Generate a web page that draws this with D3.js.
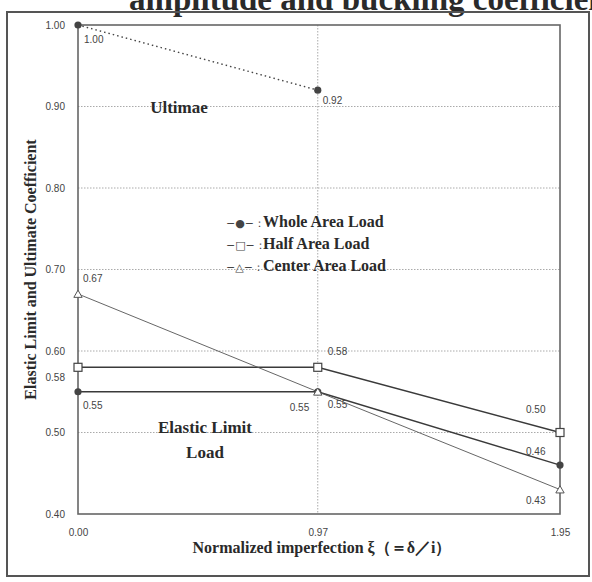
<!DOCTYPE html>
<html>
<head>
<meta charset="utf-8">
<script src="https://cdn.jsdelivr.net/npm/d3@7"></script>
<style>
  body { margin: 0; background: #fff; }
  svg { display: block; }
  .serif { font-family: "Liberation Serif", "DejaVu Serif", serif; font-weight: bold; fill: #2a2a2a; }
  .tick text { font-family: "Liberation Sans", Arial, sans-serif; font-size: 10px; fill: #444; }
  .val { font-family: "Liberation Sans", Arial, sans-serif; font-size: 10px; fill: #444; }
</style>
</head>
<body>
<svg id="chart" width="592" height="582"></svg>
<script>
'use strict';

// data
var xValues = [0.00, 0.97, 1.95];
var yTicks = [0.40, 0.50, 0.58, 0.60, 0.70, 0.80, 0.90, 1.00];
var yGrid = [0.50, 0.60, 0.70, 0.80, 0.90];
var ultimate = [1.00, 0.92];
var wholeArea = [0.55, 0.55, 0.46];
var halfArea = [0.58, 0.58, 0.50];
var centerArea = [0.67, 0.55, 0.43];
var legendNames = ['Whole Area Load', 'Half Area Load', 'Center Area Load'];
var legendKeys = ['\u2212\u25CF\u2212：', '\u2212\u25A1\u2212：', '\u2212\u25B3\u2212：'];

var svg = d3.select('#chart');
var margin = { left: 78, right: 32, top: 25, bottom: 68 };
var W = 592, H = 582;

var x = d3.scaleLinear().domain([0, 1.95]).range([margin.left, W - margin.right]);
var y = d3.scaleLinear().domain([0.40, 1.00]).range([H - margin.bottom, margin.top]);

// title, cut off by the top edge as in the scan
svg.append('text')
  .attr('class', 'serif')
  .attr('x', 129).attr('y', 10)
  .style('font-size', '33px')
  .text('amplitude and buckling coefficient');

// outer frame
svg.append('rect')
  .attr('x', 7).attr('y', 12)
  .attr('width', 582).attr('height', 564)
  .attr('fill', 'none')
  .attr('stroke', '#555')
  .attr('stroke-width', 2);

// grid
svg.append('g').selectAll('line').data(yGrid).join('line')
  .attr('x1', x(0)).attr('x2', x(1.95))
  .attr('y1', function (d) { return y(d); }).attr('y2', function (d) { return y(d); })
  .attr('stroke', '#aaa').attr('stroke-width', 1).attr('stroke-dasharray', '1.5,1.5');
svg.append('line')
  .attr('x1', x(0.97)).attr('x2', x(0.97))
  .attr('y1', y(1.0)).attr('y2', y(0.4))
  .attr('stroke', '#aaa').attr('stroke-width', 1).attr('stroke-dasharray', '1.5,1.5');

// axes
var yAxis = svg.append('g')
  .attr('transform', 'translate(' + x(0) + ',0)')
  .call(d3.axisLeft(y).tickValues(yTicks).tickFormat(d3.format('.2f')).tickSize(0).tickPadding(13));
yAxis.select('.domain').remove();
yAxis.selectAll('.tick text').filter(function (d) { return d === 0.58; }).attr('dy', '1.3em');

var xAxis = svg.append('g')
  .attr('transform', 'translate(0,' + (y(0.4) + 15) + ')')
  .call(d3.axisBottom(x).tickValues(xValues).tickFormat(d3.format('.2f')).tickSize(0).tickPadding(0));
xAxis.select('.domain').remove();

// plot border
svg.append('rect')
  .attr('x', x(0)).attr('y', y(1.0))
  .attr('width', x(1.95) - x(0)).attr('height', y(0.4) - y(1.0))
  .attr('fill', 'none').attr('stroke', '#666').attr('stroke-width', 1.6);

var line = d3.line()
  .x(function (d, i) { return x(xValues[i]); })
  .y(function (d) { return y(d); });

svg.append('path').datum(ultimate).attr('d', line)
  .attr('fill', 'none').attr('stroke', '#444').attr('stroke-width', 1.4).attr('stroke-dasharray', '1.5,3');
svg.append('path').datum(wholeArea).attr('d', line)
  .attr('fill', 'none').attr('stroke', '#3a3a3a').attr('stroke-width', 1.4);
svg.append('path').datum(halfArea).attr('d', line)
  .attr('fill', 'none').attr('stroke', '#3a3a3a').attr('stroke-width', 1.4);
svg.append('path').datum(centerArea).attr('d', line)
  .attr('fill', 'none').attr('stroke', '#555').attr('stroke-width', 0.9);

// markers
function circles(data) {
  svg.append('g').selectAll('circle').data(data).join('circle')
    .attr('cx', function (d, i) { return x(xValues[i]); })
    .attr('cy', function (d) { return y(d); })
    .attr('r', 3.6).attr('fill', '#444');
}
circles(ultimate);
circles(wholeArea);

svg.append('g').selectAll('rect').data(halfArea).join('rect')
  .attr('x', function (d, i) { return x(xValues[i]) - 4; })
  .attr('y', function (d) { return y(d) - 4; })
  .attr('width', 8).attr('height', 8)
  .attr('fill', '#fff').attr('stroke', '#444').attr('stroke-width', 1.2);

svg.append('g').selectAll('path').data(centerArea).join('path')
  .attr('transform', function (d, i) { return 'translate(' + x(xValues[i]) + ',' + (y(d) + 1) + ')'; })
  .attr('d', d3.symbol().type(d3.symbolTriangle).size(30))
  .attr('fill', '#fff').attr('stroke', '#555').attr('stroke-width', 1);

// value labels: [series, index, dx, dy]
var labelSpots = [
  [ultimate, 0, 6, 18], [ultimate, 1, 5, 14],
  [centerArea, 0, 5, -12], [halfArea, 1, 10, -12],
  [wholeArea, 0, 5, 17], [wholeArea, 1, -28, 19], [centerArea, 1, 10, 16],
  [halfArea, 2, -34, -20], [wholeArea, 2, -34, -10], [centerArea, 2, -34, 14]
];
svg.append('g').selectAll('text').data(labelSpots).join('text')
  .attr('class', 'val')
  .attr('x', function (d) { return x(xValues[d[1]]) + d[2]; })
  .attr('y', function (d) { return y(d[0][d[1]]) + d[3]; })
  .text(function (d) { return d[0][d[1]].toFixed(2); });

// region captions
svg.append('text').attr('class', 'serif').style('font-size', '17px')
  .attr('x', 179).attr('y', 113).attr('text-anchor', 'middle').text('Ultimae');
svg.append('text').attr('class', 'serif').style('font-size', '17px')
  .attr('x', 205).attr('y', 433).attr('text-anchor', 'middle').text('Elastic Limit');
svg.append('text').attr('class', 'serif').style('font-size', '17px')
  .attr('x', 205).attr('y', 458).attr('text-anchor', 'middle').text('Load');

// legend
var legend = svg.append('g').attr('transform', 'translate(226,227)');
legend.selectAll('text.key').data(legendKeys).join('text')
  .attr('class', 'key')
  .attr('x', 0).attr('y', function (d, i) { return i * 22; })
  .style('font-family', '"DejaVu Sans", sans-serif').style('font-size', '11px').style('fill', '#444')
  .text(function (d) { return d; });
legend.selectAll('text.name').data(legendNames).join('text')
  .attr('class', 'serif name')
  .attr('x', 37).attr('y', function (d, i) { return i * 22; })
  .style('font-size', '16px')
  .text(function (d) { return d; });

// axis titles
svg.append('text').attr('class', 'serif').style('font-size', '16px')
  .attr('text-anchor', 'middle')
  .attr('transform', 'translate(36,' + ((y(1.0) + y(0.4)) / 2) + ') rotate(-90)')
  .text('Elastic Limit and Ultimate Coefficient');
svg.append('text').attr('class', 'serif').style('font-size', '16px')
  .attr('text-anchor', 'middle')
  .attr('x', 322).attr('y', 553)
  .text('Normalized imperfection ξ（＝δ／i）');
</script>
</body>
</html>
